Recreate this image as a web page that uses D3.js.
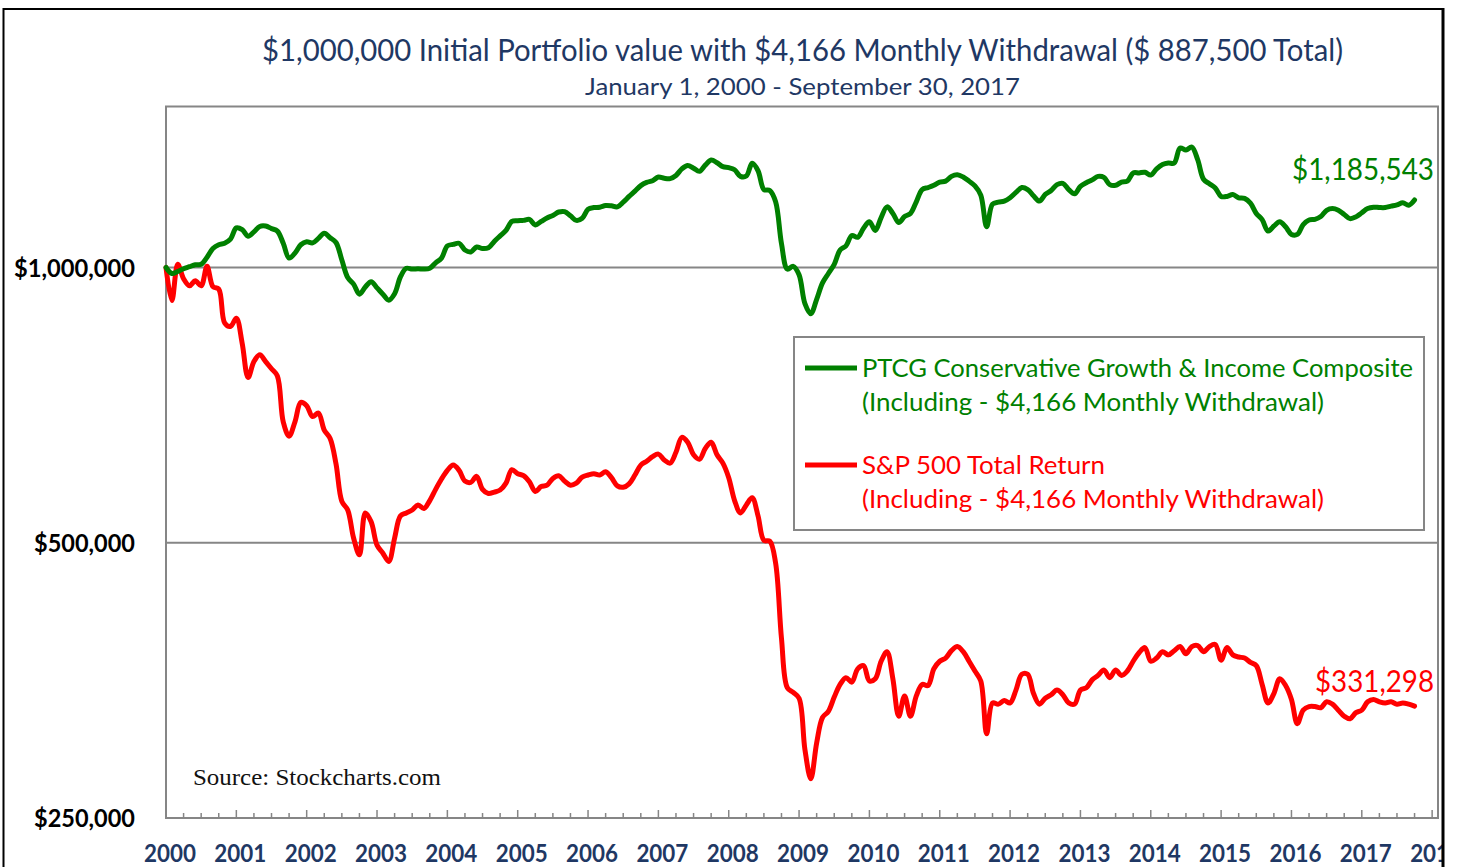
<!DOCTYPE html>
<html>
<head>
<meta charset="utf-8">
<script src="https://cdn.jsdelivr.net/npm/d3@7"></script>
<style>
  html, body { margin: 0; padding: 0; background: #fff; }
  svg { display: block; }
</style>
</head>
<body>
<svg id="chart" width="1457" height="867"></svg>
<script>
// ---------------- DATA ----------------
// Monthly portfolio values in thousands of dollars, Jan 1 2000 (index 0) to Sep 30 2017 (index 213)
const startYear = 2000;
const ptcgValues = [
  1000, 985, 990, 997, 1002, 1007, 1008, 1026, 1049, 1059, 1063, 1074,
  1105, 1100, 1082, 1094, 1109, 1110, 1103, 1096, 1063, 1024, 1037, 1059,
  1067, 1064, 1076, 1090, 1078, 1065, 1019, 975, 959, 935, 952, 965,
  950, 935, 921, 936, 977, 998, 996, 997, 996, 998, 1012, 1024,
  1056, 1060, 1063, 1045, 1040, 1053, 1049, 1051, 1068, 1083, 1098, 1123,
  1125, 1126, 1129, 1113, 1123, 1133, 1140, 1150, 1151, 1139, 1126, 1132,
  1158, 1163, 1164, 1169, 1168, 1165, 1179, 1196, 1212, 1229, 1239, 1244,
  1256, 1252, 1251, 1261, 1282, 1293, 1284, 1274, 1294, 1311, 1302, 1289,
  1286, 1279, 1258, 1259, 1300, 1276, 1217, 1214, 1180, 1062, 996, 1003,
  982, 913, 890, 923, 962, 985, 1008, 1045, 1056, 1084, 1079, 1104,
  1122, 1098, 1134, 1165, 1146, 1120, 1137, 1146, 1180, 1217, 1223, 1230,
  1240, 1243, 1258, 1263, 1256, 1243, 1228, 1200, 1108, 1173, 1179, 1182,
  1192, 1208, 1223, 1217, 1198, 1182, 1202, 1214, 1232, 1236, 1217, 1204,
  1227, 1238, 1247, 1258, 1255, 1232, 1230, 1240, 1243, 1269, 1269, 1271,
  1262, 1282, 1296, 1301, 1301, 1351, 1344, 1354, 1312, 1249, 1235, 1222,
  1196, 1196, 1202, 1192, 1190, 1176, 1146, 1128, 1096, 1110, 1122, 1108,
  1087, 1087, 1114, 1127, 1129, 1137, 1155, 1160, 1155, 1143, 1131, 1136,
  1148, 1160, 1164, 1163, 1163, 1167, 1171, 1177, 1170, 1185.543
];
const spxValues = [
  1000, 920, 1008, 972, 955, 967, 955, 1003, 953, 947, 870, 862,
  880, 826, 758, 789, 803, 789, 775, 761, 678, 654, 678, 712,
  706, 687, 693, 664, 650, 610, 555, 543, 506, 485, 539, 527,
  497, 487, 477, 506, 535, 539, 543, 550, 545, 556, 572, 587,
  600, 608, 600, 584, 582, 591, 572, 566, 568, 571, 581, 601,
  595, 592, 583, 569, 576, 578, 588, 592, 584, 578, 581, 590,
  593, 595, 593, 598, 589, 577, 575, 580, 593, 608, 614, 621,
  625, 616, 611, 628, 652, 644, 624, 617, 634, 644, 624, 611,
  589, 556, 539, 550, 560, 535, 503, 502, 475, 393, 347, 343,
  338, 297, 276, 302, 322, 327, 339, 350, 356, 352, 364, 367,
  353, 355, 371, 380, 355, 323, 340, 323, 340, 350, 349, 364,
  371, 374, 381, 385, 380, 371, 362, 353, 309, 334, 333, 336,
  334, 345, 359, 359, 342, 333, 338, 341, 345, 341, 334, 333,
  345, 347, 354, 358, 363, 356, 363, 358, 362, 371, 379, 384,
  371, 374, 380, 377, 381, 385, 378, 385, 386, 380, 385, 387,
  372, 384, 377, 375, 374, 370, 367, 350, 334, 342, 355, 349,
  337, 317, 328, 331, 331, 330, 335, 333, 328, 323, 321, 326,
  328, 335, 337, 335, 334, 335, 333, 334, 333, 331.298
];
const yearLabels = ["2000","2001","2002","2003","2004","2005","2006","2007","2008","2009",
                    "2010","2011","2012","2013","2014","2015","2016","2017","2018"];
const yTickValues = [250, 500, 1000];      // thousands of dollars
const gridValues = [500, 1000];
const endLabels = ["$1,185,543", "$331,298"];
const titleText = "$1,000,000 Initial Portfolio value with $4,166 Monthly Withdrawal ($ 887,500 Total)";
const subtitleText = "January 1, 2000 -  September 30, 2017";
const legendLabels = [
  ["PTCG Conservative Growth & Income Composite", "(Including - $4,166 Monthly Withdrawal)"],
  ["S&P 500 Total Return", "(Including - $4,166 Monthly Withdrawal)"]
];
const sourceText = "Source: Stockcharts.com";

// ---------------- LAYOUT ----------------
const GREEN = "#008000", RED = "#FF0000", NAVY = "#1F3864", GRAY = "#868686";
const plot = { left: 166, right: 1438, top: 106.5, bottom: 818 };

const svg = d3.select("#chart");
const defs = svg.append("defs");
defs.append("clipPath").attr("id", "frameClip")
  .append("rect").attr("x", 0).attr("y", 0).attr("width", 1442).attr("height", 867);

const root = svg.append("g").attr("clip-path", "url(#frameClip)");

const x = d3.scaleLinear().domain([2000, 2018 + 1/12]).range([plot.left, plot.right]);
const y = d3.scaleLog().domain([250, 1500]).range([plot.bottom, plot.top]);
const xOf = i => x(startYear + i / 12);

function addText(g, str, cx, cy, o) {
  const t = g.append("text")
    .attr("y", cy)
    .attr("font-family", o.family || "Lato, 'Open Sans', sans-serif")
    .attr("font-size", o.size)
    .attr("font-weight", o.weight || "normal")
    .attr("fill", o.fill || "#000")
    .text(str);
  if (o.len) {
    let sx = cx;
    if (o.anchor === "middle") sx = cx - o.len / 2;
    else if (o.anchor === "end") sx = cx - o.len;
    t.attr("x", sx).attr("textLength", o.len).attr("lengthAdjust", "spacingAndGlyphs");
  } else {
    t.attr("x", cx).attr("text-anchor", o.anchor || "start");
  }
  return t;
}

// Titles
addText(root, titleText, 802.5, 61, { size: 30, fill: NAVY, anchor: "middle", len: 1081 });
addText(root, subtitleText, 802.5, 95, { size: 24, fill: NAVY, anchor: "middle", len: 435 });

// Plot frame
root.append("rect")
  .attr("x", plot.left).attr("y", plot.top)
  .attr("width", plot.right - plot.left).attr("height", plot.bottom - plot.top)
  .attr("fill", "none").attr("stroke", GRAY).attr("stroke-width", 2);

// Gridlines
root.append("g").selectAll("line").data(gridValues).join("line")
  .attr("x1", plot.left).attr("x2", plot.right)
  .attr("y1", d => y(d)).attr("y2", d => y(d))
  .attr("stroke", GRAY).attr("stroke-width", 2);

// X ticks (quarterly minor, yearly major) pointing up into the plot
const quarters = d3.range(0, 18 * 4 + 1).map(q => 2000 + q / 4);
root.append("g").selectAll("line").data(quarters).join("line")
  .attr("x1", d => x(d)).attr("x2", d => x(d))
  .attr("y1", plot.bottom)
  .attr("y2", (d, i) => plot.bottom - (i % 4 === 0 ? 8 : 5))
  .attr("stroke", GRAY).attr("stroke-width", 1.5);

// X labels
const xl = root.append("g");
yearLabels.forEach(lbl => {
  addText(xl, lbl, x(+lbl) + 4, 862, { size: 25, weight: "bold", fill: NAVY, anchor: "middle", len: 52 });
});

// Y labels
const yl = root.append("g");
yTickValues.forEach(v => {
  const s = "$" + d3.format(",")(v * 1000);
  addText(yl, s, 135, y(v) + 9, { size: 25, weight: "bold", fill: "#000", anchor: "end", len: s.length === 10 ? 121 : 101 });
});

// Source
addText(root, sourceText, 193, 785, { size: 24, family: "'Liberation Serif', 'DejaVu Serif', serif", fill: "#111", len: 248 });

// Lines
const line = d3.line()
  .x((d, i) => xOf(i))
  .y(d => y(d))
  .curve(d3.curveCatmullRom.alpha(0.5));

root.append("path").datum(spxValues)
  .attr("d", line).attr("fill", "none").attr("stroke", RED)
  .attr("stroke-width", 5).attr("stroke-linejoin", "round").attr("stroke-linecap", "round");
root.append("path").datum(ptcgValues)
  .attr("d", line).attr("fill", "none").attr("stroke", GREEN)
  .attr("stroke-width", 5).attr("stroke-linejoin", "round").attr("stroke-linecap", "round");

// End labels
addText(root, endLabels[0], 1434, 180, { size: 30, fill: GREEN, anchor: "end", len: 142 });
addText(root, endLabels[1], 1434, 692, { size: 30, fill: RED, anchor: "end", len: 119 });

// Legend
const lg = root.append("g");
lg.append("rect").attr("x", 794).attr("y", 337).attr("width", 630).attr("height", 193)
  .attr("fill", "#fff").attr("stroke", GRAY).attr("stroke-width", 2);
const legendColors = [GREEN, RED];
const legendY = [368, 465];
const lineLens = [[551, 462], [243, 462]];
legendLabels.forEach((lines, k) => {
  lg.append("line").attr("x1", 805).attr("x2", 857)
    .attr("y1", legendY[k]).attr("y2", legendY[k])
    .attr("stroke", legendColors[k]).attr("stroke-width", 5);
  addText(lg, lines[0], 862, legendY[k] + 9, { size: 25, fill: legendColors[k], len: lineLens[k][0] });
  addText(lg, lines[1], 862, legendY[k] + 43, { size: 25, fill: legendColors[k], len: lineLens[k][1] });
});

// Outer frame
svg.append("rect").attr("x", 3.5).attr("y", 9).attr("width", 1439.5).attr("height", 900)
  .attr("fill", "none").attr("stroke", "#000").attr("stroke-width", 2);
svg.append("line").attr("x1", 1443).attr("x2", 1443).attr("y1", 8).attr("y2", 867)
  .attr("stroke", "#000").attr("stroke-width", 3);
</script>
</body>
</html>
